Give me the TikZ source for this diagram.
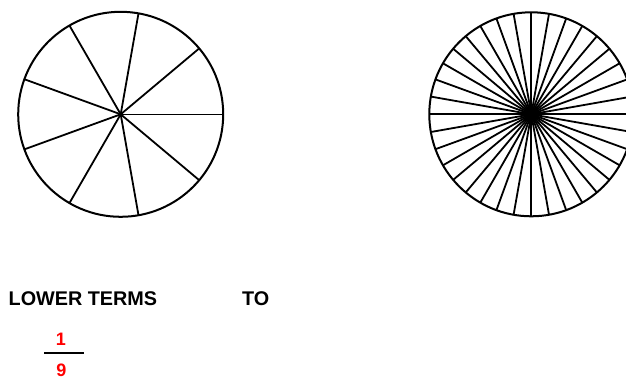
\documentclass[tikz,border=0pt]{standalone}
\usepackage{fontspec}
\setmainfont{Liberation Sans}
\begin{document}
\begin{tikzpicture}[x=1pt,y=-1pt,
  rim/.style={line width=2pt},
  spoke/.style={line width=1.8pt},
  lbl/.style={inner sep=0pt,font=\fontsize{19.8}{20}\selectfont\bfseries},
  num/.style={inner sep=0pt,text=red,font=\fontsize{18}{18}\selectfont\bfseries}]
\useasboundingbox (0,0) rectangle (626,379);
\begin{scope}
\clip (0,0) rectangle (626,379);
% left circle, 9 sectors
\coordinate (c1) at (120.7,114.3);
\foreach \a in {40,80,...,320}
  \draw[spoke] (c1) -- ++({102.5*cos(\a)},{-102.5*sin(\a)});
\draw[line width=1.2pt] (c1) -- ++(102.5,0);
\draw[rim] (c1) circle[radius=102.5];
% right circle, 36 sectors
\coordinate (c2) at (531.3,114.3);
\foreach \a in {0,10,...,350}
  \draw[spoke] (c2) -- ++({102*cos(\a)},{-102*sin(\a)});
\draw[rim] (c2) circle[radius=102];
\end{scope}
\node[lbl,anchor=base west] (lt) at (8.5,305) {LOWER TERMS};
\node[lbl,anchor=base west] (to) at (242,305) {TO};
\node[num,anchor=base] (n1) at (61,345.5) {1};
\coordinate (fl) at (44,353);
\coordinate (fr) at (84,353);
\draw[line width=2.2pt] (fl) -- (fr);
\node[num,anchor=base] (n9) at (61.5,376.5) {9};
\end{tikzpicture}
\end{document}
